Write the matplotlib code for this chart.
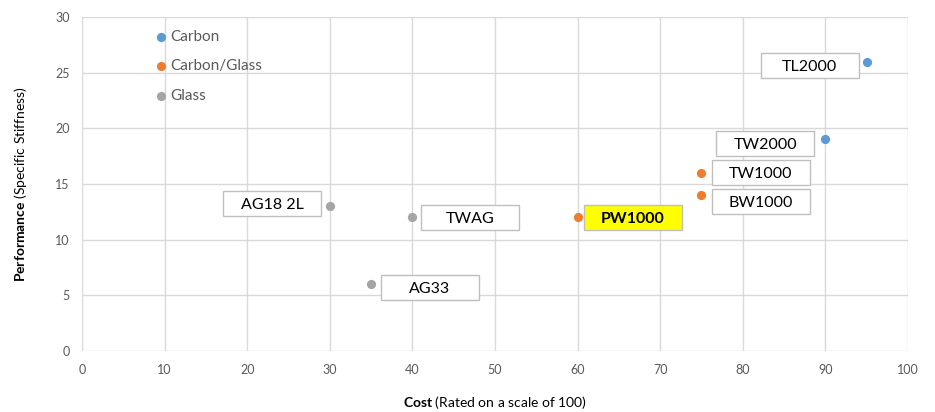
import matplotlib

matplotlib.use("Agg")
import matplotlib.pyplot as plt
from matplotlib.patches import Rectangle

# data
SERIES = ["Carbon", "Carbon/Glass", "Glass"]
COLORS = ["#5B9BD5", "#ED7D31", "#A5A5A5"]

carbon_names = ["TL2000", "TW2000"]
carbon_cost = [95, 90]
carbon_perf = [26, 19]

hybrid_names = ["TW1000", "BW1000", "PW1000"]
hybrid_cost = [75, 75, 60]
hybrid_perf = [16, 14, 12]

glass_names = ["AG18 2L", "TWAG", "AG33"]
glass_cost = [30, 40, 35]
glass_perf = [13, 12, 6]

# label box centre offset from its point, in pixels (dx right, dy down)
LABEL_OFFSETS = {
    "TL2000": (-57, 3.5),
    "TW2000": (-60, 4),
    "TW1000": (59.5, 0),
    "BW1000": (59.5, 6),
    "PW1000": (55, 0),
    "AG18 2L": (-57.5, -3),
    "TWAG": (58, 0),
    "AG33": (58.5, 3.5),
}
HIGHLIGHT = "PW1000"
BOX_W_PX, BOX_H_PX = 98, 25

plt.rcParams["font.family"] = ["Lato", "DejaVu Sans"]
plt.rcParams["mathtext.fontset"] = "custom"
plt.rcParams["mathtext.rm"] = "Lato"
plt.rcParams["mathtext.bf"] = "Lato:bold"

DPI = 100
fig = plt.figure(figsize=(9.35, 4.12), dpi=DPI)
ax = fig.add_axes([0.0877, 0.148, 0.8834, 0.8107])
ax.set_xlim(0, 100)
ax.set_ylim(0, 30)
ax.set_xticks(range(0, 101, 10))
ax.set_yticks(range(0, 31, 5))
ax.grid(True, color="#D9D9D9", linewidth=1)
ax.set_axisbelow(True)
for spine in ax.spines.values():
    spine.set_visible(False)
ax.tick_params(length=0, labelsize=9, labelcolor="#595959", pad=9)

pos = ax.get_position()
px_x = pos.width * 9.35 * DPI / 100
px_y = pos.height * 4.12 * DPI / 30

groups = [
    (carbon_names, carbon_cost, carbon_perf),
    (hybrid_names, hybrid_cost, hybrid_perf),
    (glass_names, glass_cost, glass_perf),
]
for (names, xs, ys), label, color in zip(groups, SERIES, COLORS):
    ax.scatter(xs, ys, s=44, color=color, label=label, zorder=4, linewidths=0)
    for name, x, y in zip(names, xs, ys):
        dx, dy = LABEL_OFFSETS[name]
        cx = x + dx / px_x
        cy = y - dy / px_y
        w = BOX_W_PX / px_x
        h = BOX_H_PX / px_y
        face = "#FFFF00" if name == HIGHLIGHT else "white"
        ax.add_patch(Rectangle((cx - w / 2, cy - h / 2), w, h, facecolor=face,
                               edgecolor="#BFBFBF", linewidth=1, zorder=3))
        ax.text(cx, cy, name, ha="center", va="center_baseline", fontsize=11.5,
                fontweight="bold" if name == HIGHLIGHT else "normal",
                color="black", zorder=5)

leg = ax.legend(loc="upper left", bbox_to_anchor=(0.083, 0.985), frameon=False,
                fontsize=11, handlelength=0.4, handletextpad=0.4, labelspacing=1.02,
                borderpad=0, scatterpoints=1)
for t in leg.get_texts():
    t.set_color("#595959")

ax.set_xlabel(r"$\mathbf{Cost}$ (Rated on a scale of 100)", fontsize=10, labelpad=13)
ax.set_ylabel(r"$\mathbf{Performance}$ (Specific Stiffness)", fontsize=10, labelpad=19)

fig.savefig("out.png", dpi=DPI)
plt.close(fig)
